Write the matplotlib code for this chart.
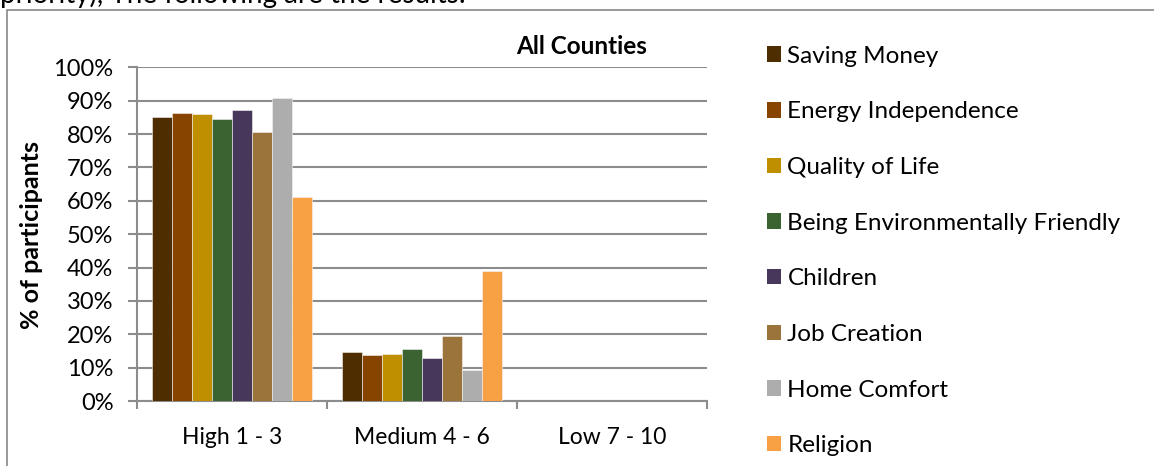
import matplotlib
matplotlib.use("Agg")
import matplotlib.pyplot as plt
import numpy as np
from matplotlib.patches import Rectangle, Patch
from matplotlib.ticker import PercentFormatter

categories = ["High 1 - 3", "Medium 4 - 6", "Low 7 - 10"]
series_names = ["Saving Money", "Energy Independence", "Quality of Life",
                "Being Environmentally Friendly", "Children", "Job Creation",
                "Home Comfort", "Religion"]
saving_money = [0.851, 0.148, 0.0]
energy_independence = [0.862, 0.138, 0.0]
quality_of_life = [0.860, 0.140, 0.0]
environmentally_friendly = [0.845, 0.155, 0.0]
children = [0.871, 0.130, 0.0]
job_creation = [0.806, 0.194, 0.0]
home_comfort = [0.908, 0.093, 0.0]
religion = [0.611, 0.389, 0.0]
series_values = [saving_money, energy_independence, quality_of_life,
                 environmentally_friendly, children, job_creation,
                 home_comfort, religion]
colors = ["#4E2D00", "#874400", "#BF8F00", "#3B6331", "#47375A",
          "#9A743B", "#ADADAD", "#F8A044"]
y_ticks = [0, 0.1, 0.2, 0.3, 0.4, 0.5, 0.6, 0.7, 0.8, 0.9, 1.0]

plt.rcParams['font.family'] = ['Lato', 'DejaVu Sans']

W, H = 1154, 466
fig = plt.figure(figsize=(W / 100, H / 100), dpi=100)

# chart border
fig.patches.append(Rectangle((7 / W, -0.1), 1.2, 1 - 10 / H + 0.1,
                             transform=fig.transFigure, fill=False,
                             edgecolor="#888888", linewidth=1.2))
# partially visible preceding text
fig.text(0.5 / W, 1 - 3 / H, "priority), The following are the results:",
         fontsize=20, ha="left", va="baseline", color="black")

ax = fig.add_axes([137 / W, 1 - 401 / H, (707 - 137) / W, (401 - 67.3) / H])
n = len(series_names)
bw = 1 / (n + 1.5)
x = np.arange(len(categories))
for i, (name, vals, c) in enumerate(zip(series_names, series_values, colors)):
    offs = (i - (n - 1) / 2) * bw
    ax.bar(x + offs, vals, width=bw, color=c, label=name,
           edgecolor="#F4F4F4", linewidth=0.4, zorder=3)

ax.set_xlim(-0.5, len(categories) - 0.5)
ax.set_ylim(0, 1.0)
ax.set_yticks(y_ticks)
ax.yaxis.set_major_formatter(PercentFormatter(1.0, decimals=0))
ax.grid(axis="y", color="#8C8C8C", linewidth=1.5, zorder=0)
ax.set_axisbelow(True)
for s in ["top", "right"]:
    ax.spines[s].set_visible(False)
for s in ["left", "bottom"]:
    ax.spines[s].set_color("#8C8C8C")
    ax.spines[s].set_linewidth(1.5)

ax.set_xticks(x)
ax.set_xticklabels(categories, fontsize=16.5)
ax.tick_params(axis="x", length=0, pad=19)
ax.set_xticks(np.arange(len(categories) + 1) - 0.5, minor=True)
ax.tick_params(axis="x", which="minor", length=6, color="#8C8C8C", width=1.5)
ax.tick_params(axis="y", labelsize=17, length=6.5, color="#8C8C8C", width=1.5, pad=10.5)

fig.text(32 / W, 1 - 235 / H, "% of participants", fontsize=18, fontweight="bold",
         rotation=90, ha="center", va="center")
fig.text(582 / W, 1 - 47 / H, "All Counties", fontsize=17.5, fontweight="bold",
         ha="center", va="center")

handles = [Patch(facecolor=c, edgecolor="none") for c in colors]
fig.legend(handles, series_names, loc="upper left",
           bbox_to_anchor=(757 / W, 1 - 36 / H), frameon=False,
           fontsize=17.5, labelspacing=1.425, handlelength=0.6, handleheight=0.6,
           handletextpad=0.25, borderaxespad=0)

fig.savefig("out.png", dpi=100)
